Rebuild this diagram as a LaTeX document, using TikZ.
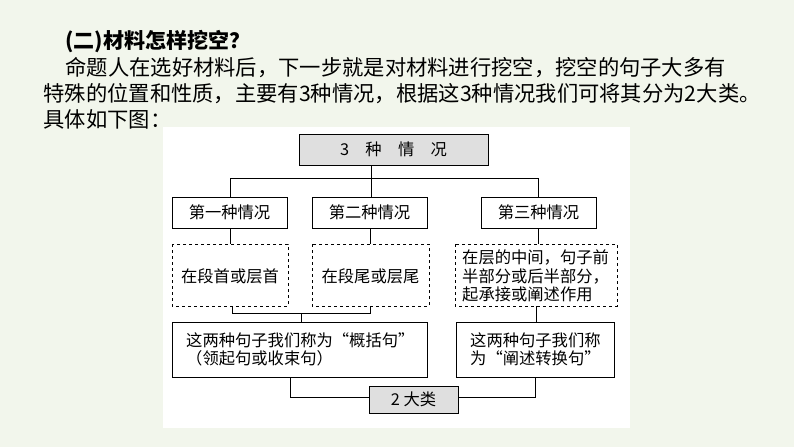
\documentclass[tikz,border=0pt]{standalone}
\usepackage{fontspec}
\setmainfont{Liberation Serif}
\newfontfamily\cjk{Noto Sans CJK SC}
\begin{document}
\begin{tikzpicture}[x=1pt,y=-1pt,
  box/.style={draw,line width=1pt,inner sep=0pt},
  gbox/.style={box,fill=gray!25},
  dbox/.style={draw,dashed,line width=0.8pt},
  txt/.style={font=\cjk\fontsize{16.3}{18.5}\selectfont,align=left,inner sep=0pt},
  ln/.style={line width=1pt}]
\fill[fill={rgb,255:red,242;green,246;blue,236}] (0,0) rectangle (794,447);
\useasboundingbox (0,0) rectangle (794,447);
\node[anchor=west,font=\cjk\bfseries\fontsize{21}{24}\selectfont] (t1) at (62,42) {(二)材料怎样挖空？};
\node[anchor=west,font=\cjk\fontsize{21.3}{24}\selectfont] (t2) at (62,68) {命题人在选好材料后，下一步就是对材料进行挖空，挖空的句子大多有};
\node[anchor=west,font=\cjk\fontsize{21.3}{24}\selectfont] (t3) at (40,94) {特殊的位置和性质，主要有3种情况，根据这3种情况我们可将其分为2大类。};
\node[anchor=west,font=\cjk\fontsize{21.3}{24}\selectfont] (t4) at (40,119) {具体如下图：};
\fill[white] (163,127) rectangle (630,428);
% boxes
\draw[gbox] (299,134) rectangle (488,165);
\node[txt] (top) at (393.5,149.5) {3\quad 种\quad 情\quad 况};
\coordinate (topb) at (371,165);
\draw[box] (172,197) rectangle (287,228); \node[txt] (a1) at (229.5,212.5) {第一种情况};
\draw[box] (312,197) rectangle (427,228); \node[txt] (a2) at (369.5,212.5) {第二种情况};
\draw[box] (481,197) rectangle (596,228); \node[txt] (a3) at (538.5,212.5) {第三种情况};
\draw[dbox] (172,244) rectangle (288,306); \node[txt] (d1) at (230,276) {在段首或层首};
\draw[dbox] (312,244) rectangle (429,306); \node[txt] (d2) at (370.5,276) {在段尾或层尾};
\draw[dbox] (455,244) rectangle (617,306); \node[txt,anchor=west] (d3) at (462,276) {在层的中间，句子前\\半部分或后半部分，\\起承接或阐述作用};
\draw[box] (172,322) rectangle (427,377); \node[txt,anchor=west] (b1) at (186,349.5) {这两种句子我们称为“概括句”\\（领起句或收束句）};
\draw[box] (456,322) rectangle (614,377); \node[txt,anchor=west] (b2) at (470,349.5) {这两种句子我们称\\为“阐述转换句”};
\draw[gbox] (369,386) rectangle (458,413); \node[txt] (c) at (413.5,399.5) {2 大类};
% connectors
\draw[ln] (topb) -- (371,178);
\draw[ln] (230,197) -- (230,178) -- (538,178) -- (538,197);
\draw[ln] (371,178) -- (371,197);
\draw[ln] (230,228) -- (230,244);
\draw[ln] (370,228) -- (370,244);
\draw[ln] (538,228) -- (538,244);
\draw[ln] (232,306) -- (232,313) -- (370,313) -- (370,306);
\draw[ln] (301,313) -- (301,322);
\draw[ln] (536,306) -- (536,322);
\draw[ln] (290,377) -- (290,397) -- (369,397);
\draw[ln] (535,377) -- (535,397) -- (458,397);
\end{tikzpicture}
\end{document}
